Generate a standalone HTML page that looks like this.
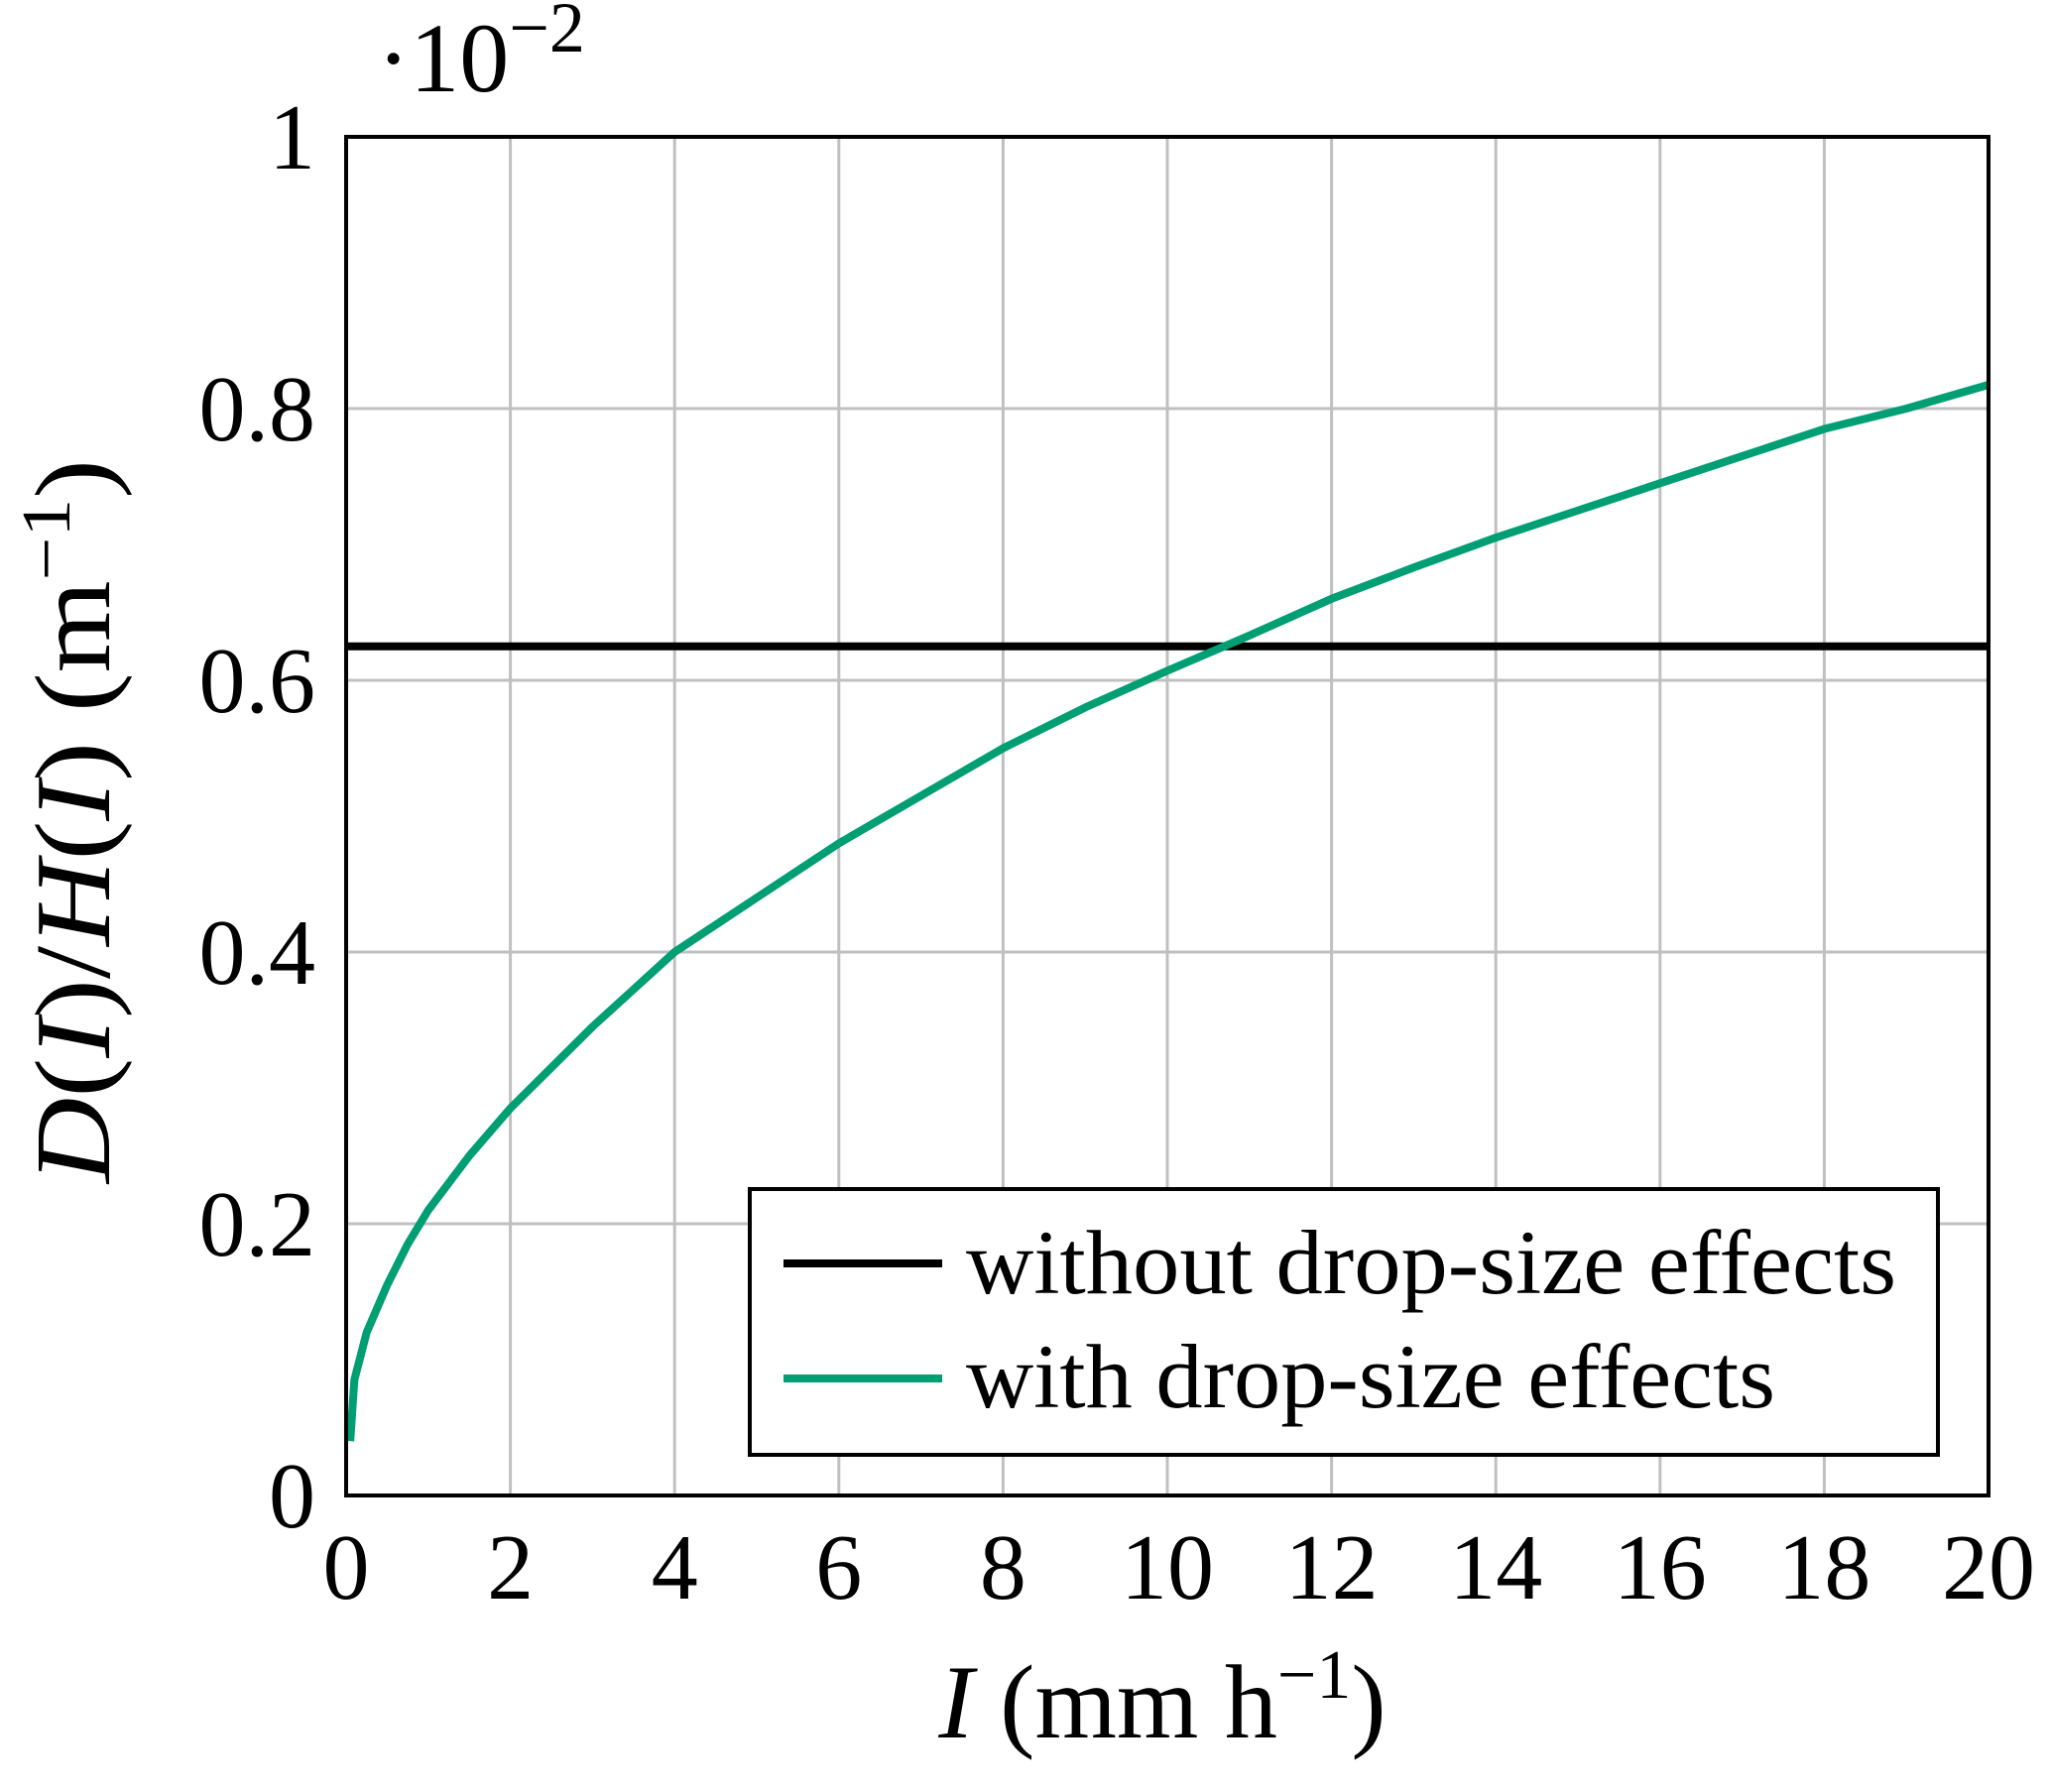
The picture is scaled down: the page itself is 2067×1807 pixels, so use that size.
<!DOCTYPE html>
<html><head><meta charset="utf-8"><style>
html,body{margin:0;padding:0;background:#fff}
text{font-family:"Liberation Serif",serif;fill:#000}
</style></head><body>
<svg id="chart" width="2067" height="1802" viewBox="0 0 2067 1802" xmlns="http://www.w3.org/2000/svg">
<g id="grid"></g>
<g id="series"></g>
<rect x="349" y="138" width="1656" height="1370" fill="none" stroke="#000" stroke-width="4"/>
<g id="ticks"></g>
<text x="380" y="92" font-size="100">·10<tspan dy="-40" font-size="72">−2</tspan></text>
<text x="1172" y="1752" font-size="106" text-anchor="middle"><tspan font-style="italic">I</tspan> (mm h<tspan dy="-40" font-size="70">−1</tspan><tspan dy="40">)</tspan></text>
<text transform="translate(110,828) rotate(-90)" font-size="108" text-anchor="middle" textLength="730" lengthAdjust="spacingAndGlyphs"><tspan font-style="italic">D</tspan>(<tspan font-style="italic">I</tspan>)/<tspan font-style="italic">H</tspan>(<tspan font-style="italic">I</tspan>) (m<tspan dy="-40" font-size="70">−1</tspan><tspan dy="40">)</tspan></text>
<g>
<rect x="756" y="1199" width="1198" height="268" fill="#fff" stroke="#000" stroke-width="4"/>
<line x1="790" y1="1274" x2="950" y2="1274" stroke="#000" stroke-width="8"/>
<text x="974" y="1304" font-size="92" textLength="938" lengthAdjust="spacingAndGlyphs">without drop-size effects</text>
<line x1="790" y1="1390" x2="950" y2="1390" stroke="#009e73" stroke-width="8"/>
<text x="974" y="1419" font-size="92" textLength="816" lengthAdjust="spacingAndGlyphs">with drop-size effects</text>
</g>
</svg>
<script>
const xTicks=[0,2,4,6,8,10,12,14,16,18,20];
const yTicks=[0,0.2,0.4,0.6,0.8,1];
const yTickLabels=["0","0.2","0.4","0.6","0.8","1"];
const withX=[0.05,0.1,0.25,0.5,0.75,1,1.5,2,3,4,5,6,7,8,9,10,11,12,13,14,15,16,17,18,19,20];
const withY=[0.04,0.085,0.12,0.155,0.185,0.21,0.25,0.285,0.345,0.40,0.44,0.48,0.515,0.55,0.58,0.607,0.633,0.66,0.683,0.705,0.725,0.745,0.765,0.785,0.80,0.8175];
const withoutX=[0,20];
const withoutY=[0.625,0.625];
const NS="http://www.w3.org/2000/svg";
const X0=349,X1=2005,Y0=1508,Y1=138;
const sx=v=>X0+(v-0)/(20-0)*(X1-X0);
const sy=v=>Y0-(v-0)/(1-0)*(Y0-Y1);
const grid=document.getElementById('grid'),ticks=document.getElementById('ticks'),series=document.getElementById('series');
function mk(tag,attrs,parent){const e=document.createElementNS(NS,tag);for(const k in attrs)e.setAttribute(k,attrs[k]);parent.appendChild(e);return e;}
xTicks.forEach((t,i)=>{
 const g=mk('line',{x1:sx(t),x2:sx(t),y1:Y1,y2:Y0,stroke:'#c0c0c0','stroke-width':3},grid);
 
 
 const tx=mk('text',{x:sx(t),y:1612,'font-size':94,'text-anchor':'middle'},ticks);
 tx.textContent=String(t);
 
 
});
yTicks.forEach((t,i)=>{
 const g=mk('line',{x1:X0,x2:X1,y1:sy(t),y2:sy(t),stroke:'#c0c0c0','stroke-width':3},grid);
 
 
 const tx=mk('text',{x:318,y:sy(t)+32,'font-size':94,'text-anchor':'end'},ticks);
 tx.textContent=yTickLabels[i];
 
 
});
const l1=mk('polyline',{points:withoutX.map((x,i)=>sx(x)+','+sy(withoutY[i])).join(' '),fill:'none',stroke:'#000','stroke-width':8},series);


const l2=mk('polyline',{points:withX.map((x,i)=>sx(x)+','+sy(withY[i])).join(' '),fill:'none',stroke:'#009e73','stroke-width':8,'stroke-linejoin':'round'},series);


</script>
</body></html>
